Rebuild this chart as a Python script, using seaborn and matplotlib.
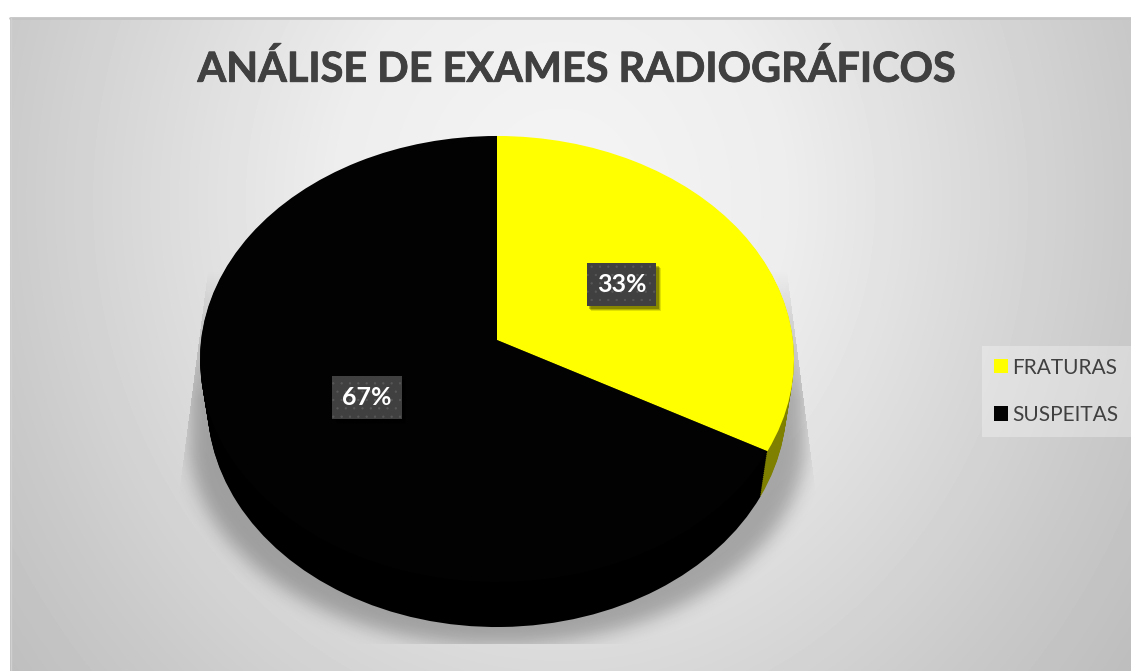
import numpy as np
import seaborn as sns
import matplotlib.pyplot as plt
import matplotlib.patheffects as pe
from matplotlib.transforms import Affine2D, Transform

categories = ["FRATURAS", "SUSPEITAS"]
values = [33, 67]
title = "ANÁLISE DE EXAMES RADIOGRÁFICOS"

W, H = 1131, 671


class Tilt(Transform):
    # unit pie -> pixels, near side of the disc drawn larger
    input_dims = 2
    output_dims = 2
    is_affine = False

    def __init__(self, x_scale=1.0, drop=0.0):
        super().__init__()
        self.x_scale = x_scale
        self.drop = drop

    def transform_non_affine(self, xy):
        xy = np.asarray(xy, dtype=float)
        w = 1 + 0.0852 * xy[:, 1]
        px = 497 + 295.9 * self.x_scale * xy[:, 0] / w
        py = 340 - 221.4 * xy[:, 1] / w + self.drop
        return np.column_stack([px, py])


class BoxShadow(pe.AbstractPathEffect):
    # soft shadow without the hatch of the box
    def draw_path(self, renderer, gc, tpath, affine, rgbFace=None):
        for off, alpha in [(4.5, 0.12), (3.5, 0.2), (2.5, 0.25)]:
            gc0 = renderer.new_gc()
            gc0.copy_properties(gc)
            gc0.set_hatch(None)
            gc0.set_linewidth(0)
            gc0.set_alpha(alpha)
            renderer.draw_path(gc0, tpath, affine + Affine2D().translate(off, -off), (0, 0, 0))
            gc0.restore()


def background():
    y, x = np.mgrid[18:H, 10:W]
    d = np.hypot((x - 560) / 570, (y - 200) / 640)
    return np.interp(d, [0, 0.4, 0.7, 1.0, 1.25], [0.96, 0.93, 0.86, 0.79, 0.74])


def shadow():
    y, x = np.mgrid[0:H, 0:W]
    half = np.where(
        y < 440,
        308.0,
        308 * np.sqrt(np.clip(1 - ((y - 440) / 205.0) ** 2, 0, 1)),
    )
    mask = (np.abs(x - 497) < half).astype(float)
    kernel = np.exp(-0.5 * (np.arange(-30, 31) / 9.0) ** 2)
    kernel /= kernel.sum()
    mask = np.apply_along_axis(lambda r: np.convolve(r, kernel, mode="same"), 0, mask)
    mask = np.apply_along_axis(lambda r: np.convolve(r, kernel, mode="same"), 1, mask)
    # straight outer edges at the sides, flat cut at the bottom
    clip = (np.abs(x - 497) < 292 + (y - 290) * 0.13) & (y < 644)
    fade = np.clip((y - 270) / 130.0, 0, 1)
    rgba = np.zeros((H, W, 4))
    rgba[..., 3] = mask * clip * fade * 0.27
    return rgba


sns.set_theme(style="white")
plt.rcParams["font.family"] = ["Lato", "DejaVu Sans"]
plt.rcParams["hatch.linewidth"] = 0.4
top_colors = sns.color_palette(["#FFFF00", "#020202"])
side_colors = sns.color_palette(["#7F7F00", "#000000"])

fig = plt.figure(figsize=(W / 100, H / 100), dpi=100, facecolor="white")
ax = fig.add_axes([0, 0, 1, 1])

ax.imshow(background(), cmap="gray", vmin=0, vmax=1, extent=(10, W, H, 18),
          aspect="auto", zorder=0)
ax.imshow(shadow(), extent=(0, W, H, 0), aspect="auto", zorder=0.5)
ax.plot([10, W], [18, 18], color="#c4c4c4", lw=2, zorder=0.6)
ax.plot([10.5, 10.5], [18, H], color="#d0d0d0", lw=1, zorder=0.6)

# side wall: the same pie stacked downwards
for t in np.linspace(1, 0.02, 24):
    wedges, _ = ax.pie(values, colors=side_colors, startangle=90, counterclock=False,
                       wedgeprops={"linewidth": 0})
    for w in wedges:
        w.set_transform(Tilt(1 - 0.025 * t, 45 * t) + ax.transData)
        w.set_zorder(1)

wedges, _, pct = ax.pie(values, colors=top_colors, startangle=90, counterclock=False,
                        autopct="%.0f%%", pctdistance=0.5, wedgeprops={"linewidth": 0})
for w in wedges:
    w.set_transform(Tilt() + ax.transData)
    w.set_zorder(2)
for t in pct:
    t.set_transform(Tilt() + ax.transData)
    t.set(color="white", fontsize=18, fontweight="bold", zorder=3)
    t.set_bbox(dict(boxstyle="square,pad=0.4", facecolor="#404040", edgecolor="#585858",
                    hatch="..", linewidth=0))
    t.get_bbox_patch().set_path_effects([BoxShadow(), pe.Normal()])

ax.text(577, 70, title, ha="center", va="center", fontsize=29.8, fontweight="bold",
        color="#404040", zorder=3,
        path_effects=[pe.withStroke(linewidth=0.6, foreground="#404040")])

leg = ax.legend(wedges, categories, loc="upper left", bbox_to_anchor=(982, 345.5),
                bbox_transform=ax.transData, fontsize=15, labelcolor="#404040",
                frameon=True, fancybox=False, framealpha=0.3, facecolor="white",
                edgecolor="none", handlelength=0.68, handleheight=0.68, handletextpad=0.2,
                labelspacing=1.3, borderpad=0.58, borderaxespad=0)
leg.set_zorder(3)

ax.set_aspect("auto")
ax.set_xlim(0, W)
ax.set_ylim(H, 0)
ax.axis("off")

fig.savefig("out.png", dpi=100, facecolor="white")
